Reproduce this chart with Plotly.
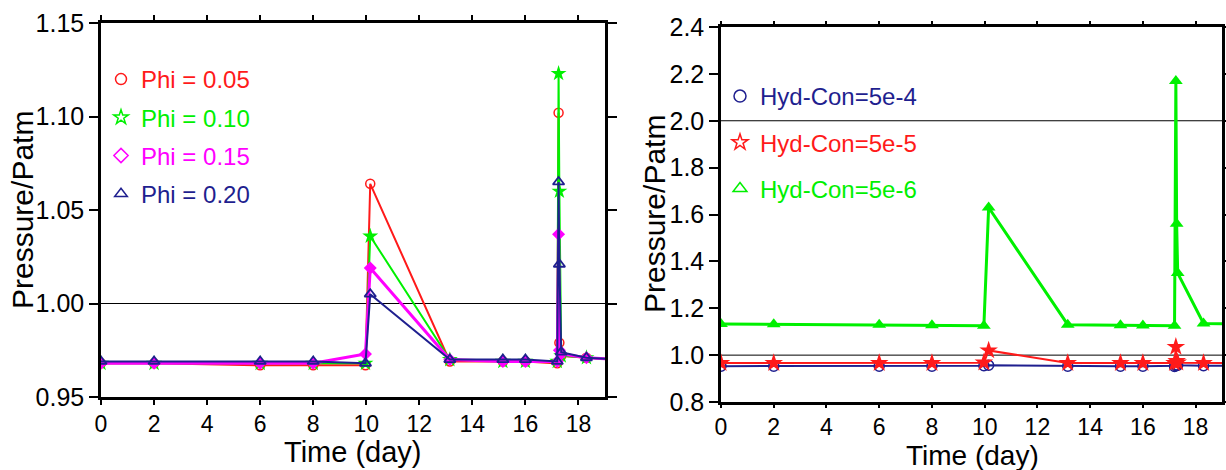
import plotly.graph_objects as go

# ---------------- data ----------------
t_left = [0, 2, 6, 8, 9.97, 10.15, 13.15, 15.15, 16, 17.2, 17.25, 17.28, 17.35, 18.3, 19.5]
phi_005 = [0.968, 0.968, 0.967, 0.967, 0.967, 1.064, 0.969, 0.969, 0.969, 0.968, 1.102, 0.979, 0.972, 0.971, 0.970]
phi_010 = [0.968, 0.968, 0.968, 0.968, 0.968, 1.036, 0.970, 0.969, 0.969, 0.969, 1.123, 1.060, 0.972, 0.971, 0.970]
phi_015 = [0.968, 0.968, 0.968, 0.968, 0.973, 1.019, 0.970, 0.969, 0.969, 0.969, 1.037, 0.975, 0.973, 0.971, 0.970]
phi_020 = [0.969, 0.969, 0.969, 0.969, 0.968, 1.005, 0.970, 0.970, 0.970, 0.969, 1.065, 1.021, 0.974, 0.971, 0.970]

t_right = [0, 2, 6, 8, 9.97, 10.15, 13.15, 15.15, 16, 17.2, 17.25, 17.28, 17.32, 18.3, 19.5]
hc_5e4 = [0.953, 0.953, 0.953, 0.953, 0.955, 0.957, 0.953, 0.953, 0.953, 0.952, 0.955, 0.958, 0.957, 0.955, 0.955]
hc_5e5 = [0.966, 0.966, 0.966, 0.966, 0.968, 1.020, 0.966, 0.966, 0.966, 0.966, 1.035, 0.975, 0.968, 0.966, 0.966]
hc_5e6 = [1.133, 1.132, 1.130, 1.128, 1.125, 1.630, 1.130, 1.128, 1.126, 1.125, 2.170, 1.560, 1.350, 1.135, 1.133]

left_names = ["Phi = 0.05", "Phi = 0.10", "Phi = 0.15", "Phi = 0.20"]
right_names = ["Hyd-Con=5e-4", "Hyd-Con=5e-5", "Hyd-Con=5e-6"]
left_ticks = [0.95, 1.00, 1.05, 1.10, 1.15]
right_ticks = [0.8, 1.0, 1.2, 1.4, 1.6, 1.8, 2.0, 2.2, 2.4]
x_ticks = [0, 2, 4, 6, 8, 10, 12, 14, 16, 18]
x_title = "Time (day)"
y_title = "Pressure/Patm"

RED = "#ff1a1a"
GREEN = "#00f000"
MAG = "#ff00ff"
NAVY = "#1f1f8f"
FONT = "Liberation Sans, Arial, Helvetica, sans-serif"

fig = go.Figure()

# ---- left data traces ----
left_specs = [
    (phi_005, RED, 2, "circle-open", 9, 1.5),
    (phi_010, GREEN, 2, "star", 12, 0),
    (phi_015, MAG, 3, "diamond", 10, 0),
    (phi_020, NAVY, 2, "triangle-up-open", 10, 1.8),
]
for ys, col, lw, sym, ms, mlw in left_specs:
    fig.add_trace(go.Scatter(
        x=t_left, y=ys, mode="lines+markers", xaxis="x", yaxis="y",
        line=dict(color=col, width=lw),
        marker=dict(symbol=sym, size=ms, color=col, line=dict(color=col, width=mlw)),
        showlegend=False, cliponaxis=True))

# ---- right data traces ----
right_specs = [
    (hc_5e4, NAVY, 2, "circle-open", 10, 1.5),
    (hc_5e5, RED, 2, "star", 14, 0),
    (hc_5e6, GREEN, 3, "triangle-up", 12, 0),
]
for ys, col, lw, sym, ms, mlw in right_specs:
    fig.add_trace(go.Scatter(
        x=t_right, y=ys, mode="lines+markers", xaxis="x2", yaxis="y2",
        line=dict(color=col, width=lw),
        marker=dict(symbol=sym, size=ms, color=col, line=dict(color=col, width=mlw)),
        showlegend=False, cliponaxis=True))

# ---- legend entries ----
for i, (nm, col, sym) in enumerate(zip(left_names, [RED, GREEN, MAG, NAVY],
                                       ["circle-open", "star-open", "diamond-open", "triangle-up-open"])):
    fig.add_trace(go.Scatter(
        x=[None], y=[None], mode="markers", xaxis="x", yaxis="y",
        name=f"<span style='color:{col}'>{nm}</span>",
        marker=dict(symbol=sym, size=11, color=col, line=dict(color=col, width=1.5)),
        legend="legend", legendgroup=f"l{i}", showlegend=True))
for i, (nm, col, sym) in enumerate(zip(right_names, [NAVY, RED, GREEN],
                                       ["circle-open", "star-open", "triangle-up-open"])):
    fig.add_trace(go.Scatter(
        x=[None], y=[None], mode="markers", xaxis="x2", yaxis="y2",
        name=f"<span style='color:{col}'>{nm}</span>",
        marker=dict(symbol=sym, size=12, color=col, line=dict(color=col, width=1.5)),
        legend="legend2", legendgroup=f"r{i}", showlegend=True))

# reference lines
for yv, xr, yr in [(1.0, "x domain", "y"), (1.0, "x2 domain", "y2"), (2.0, "x2 domain", "y2")]:
    fig.add_shape(type="line", xref=xr, yref=yr, x0=0, x1=1, y0=yv, y1=yv,
                  line=dict(color="black", width=1), layer="below")

W, H = 1226, 470

# axis titles as annotations (pixel-precise placement)
for xc, yc, fs in [(353, 452, 29), (972, 455, 28)]:
    fig.add_annotation(text=x_title, xref="paper", yref="paper", x=xc / W, y=(H - yc) / H,
                       xanchor="center", yanchor="middle", showarrow=False,
                       font=dict(family=FONT, size=fs, color="black"))
for xc, yc in [(22, 210), (654, 214)]:
    fig.add_annotation(text=y_title, xref="paper", yref="paper", x=xc / W, y=(H - yc) / H,
                       xanchor="center", yanchor="middle", showarrow=False, textangle=-90,
                       font=dict(family=FONT, size=30, color="black"))

axis_common = dict(showline=True, linecolor="black", linewidth=2.5, mirror="ticks",
                   ticks="outside", tickwidth=2, tickcolor="black",
                   showgrid=False, zeroline=False, automargin=False)
xfont = dict(family=FONT, size=23, color="black")
yfont = dict(family=FONT, size=25, color="black")

fig.update_layout(
    width=W, height=H,
    margin=dict(l=0, r=0, t=0, b=0),
    paper_bgcolor="white", plot_bgcolor="white",
    font=dict(family=FONT, color="black"),
    xaxis=dict(domain=[101 / W, 605 / W], range=[0, 19], tickvals=x_ticks, ticklen=5,
               tickfont=xfont, anchor="y", **axis_common),
    yaxis=dict(domain=[(H - 397) / H, (H - 23) / H], range=[0.95, 1.15], ticklen=9,
               tickvals=left_ticks, tickformat=".2f", tickfont=yfont, anchor="x", **axis_common),
    xaxis2=dict(domain=[721 / W, 1222 / W], range=[0, 19], tickvals=x_ticks, ticklen=3,
                tickfont=xfont, anchor="y2", **axis_common),
    yaxis2=dict(domain=[(H - 402) / H, (H - 27) / H], range=[0.8, 2.4], ticklen=9,
                tickvals=right_ticks, tickformat=".1f", tickfont=yfont, anchor="x2", **axis_common),
    legend=dict(x=101 / W, y=(H - 57) / H, xanchor="left", yanchor="top",
                bgcolor="rgba(0,0,0,0)", borderwidth=0, traceorder="grouped",
                tracegroupgap=4, font=dict(family=FONT, size=24)),
    legend2=dict(x=720 / W, y=(H - 74) / H, xanchor="left", yanchor="top",
                 bgcolor="rgba(0,0,0,0)", borderwidth=0, traceorder="grouped",
                 tracegroupgap=12, font=dict(family=FONT, size=24)),
)

fig.write_html("out.html", config={"displayModeBar": False},
               post_script="document.body.style.margin='0px';document.body.style.overflow='hidden';")
